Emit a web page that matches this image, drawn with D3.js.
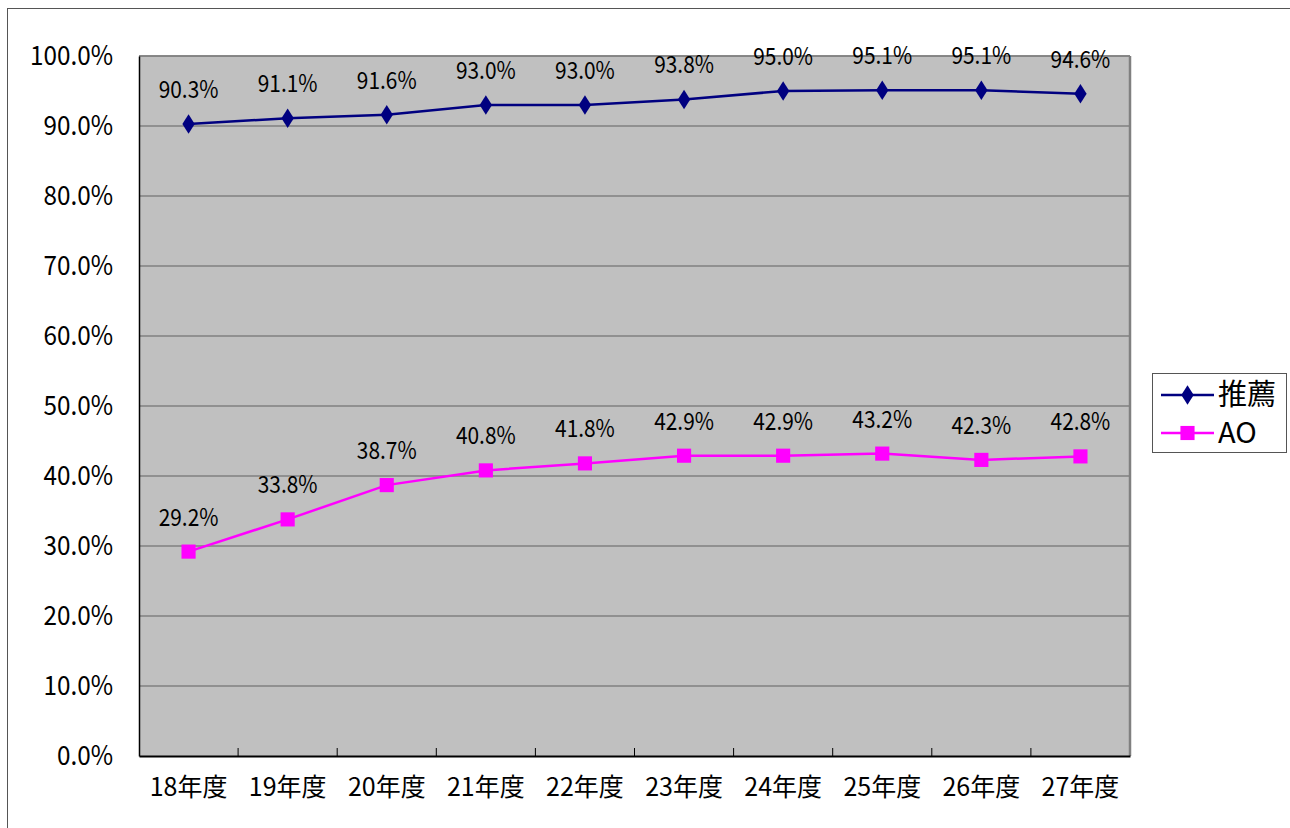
<!DOCTYPE html>
<html><head><meta charset="utf-8">
<script src="https://cdn.jsdelivr.net/npm/d3@7"></script>
<style>html,body{margin:0;padding:0;background:#fff;}svg{display:block;}</style>
</head><body>
<svg id="c" width="1290" height="828"></svg>
<script>
const categories = ["18年度","19年度","20年度","21年度","22年度","23年度","24年度","25年度","26年度","27年度"];
const suisen = [90.3, 91.1, 91.6, 93.0, 93.0, 93.8, 95.0, 95.1, 95.1, 94.6];
const ao = [29.2, 33.8, 38.7, 40.8, 41.8, 42.9, 42.9, 43.2, 42.3, 42.8];
const seriesNames = ["推薦", "AO"];
const yTicks = [0,10,20,30,40,50,60,70,80,90,100];

const font = "'Noto Sans CJK JP', 'Noto Sans', sans-serif";
const svg = d3.select("#c");
const L = 139, R = 1130, T = 56, B = 756;

svg.append("rect").attr("x",7.5).attr("y",8.5).attr("width",1290).attr("height",830)
  .attr("fill","none").attr("stroke","#555").attr("stroke-width",1);

const x = d3.scaleBand().domain(categories).range([L,R]);
const y = d3.scaleLinear().domain([0,100]).range([B,T]);

svg.append("rect").attr("x",L).attr("y",T).attr("width",R-L).attr("height",B-T).attr("fill","#C0C0C0");

// gridlines
svg.append("g").selectAll("line").data(yTicks.filter(d=>d>0)).join("line")
  .attr("x1",L).attr("x2",R).attr("y1",d=>y(d)).attr("y2",d=>y(d))
  .attr("stroke","#808080").attr("stroke-width",1.3);

// plot border
svg.append("line").attr("x1",R).attr("x2",R).attr("y1",T).attr("y2",B).attr("stroke","#808080").attr("stroke-width",2.5);
svg.append("line").attr("x1",L).attr("x2",R).attr("y1",T).attr("y2",T).attr("stroke","#808080").attr("stroke-width",1.3);

// y axis
const ySx = 0.9;
const yAxis = d3.axisLeft(y).tickValues(yTicks).tickSize(0).tickPadding(26)
  .tickFormat(d=>d.toFixed(1)+"%");
const gy = svg.append("g").attr("transform",`translate(${L},0)`).call(yAxis);
gy.select(".domain").attr("stroke","#000").attr("stroke-width",1.5);
gy.selectAll(".tick text").attr("font-family",font).attr("font-size",27).attr("fill","#000")
  .attr("x",-26/ySx).attr("transform",`scale(${ySx},1)`);

// x axis
const xAxis = d3.axisBottom(x).tickSize(0).tickPadding(22);
const gx = svg.append("g").attr("transform",`translate(0,${B})`).call(xAxis);
gx.select(".domain").attr("stroke","#000").attr("stroke-width",2);
gx.selectAll("text").attr("font-family",font).attr("font-size",25).attr("fill","#000");
// inner category boundary ticks
svg.append("g").selectAll("line").data(categories.slice(1)).join("line")
  .attr("x1",d=>x(d)).attr("x2",d=>x(d)).attr("y1",B).attr("y2",B-8)
  .attr("stroke","#000").attr("stroke-width",1);

const cx = d => x(d)+x.bandwidth()/2;
const line = d3.line().x((d,i)=>cx(categories[i])).y(d=>y(d));

const series = [
  {name:seriesNames[0], vals:suisen, color:"#000080", shape:d3.symbolDiamond, size:110},
  {name:seriesNames[1], vals:ao, color:"#FF00FF", shape:d3.symbolSquare, size:200}
];

const lSx = 0.87;
series.forEach(s=>{
  svg.append("path").datum(s.vals).attr("d",line).attr("fill","none")
    .attr("stroke",s.color).attr("stroke-width",2.5);
  svg.append("g").selectAll("path").data(s.vals).join("path")
    .attr("d",d3.symbol().type(s.shape).size(s.size))
    .attr("transform",(d,i)=>`translate(${cx(categories[i])},${y(d)})${s.shape===d3.symbolDiamond?" scale(1.1,1)":""}`)
    .attr("fill",s.color);
  svg.append("g").selectAll("text").data(s.vals).join("text")
    .attr("transform",(d,i)=>`translate(${cx(categories[i])},${y(d)-26}) scale(${lSx},1)`)
    .attr("text-anchor","middle").attr("font-family",font).attr("font-size",24)
    .attr("fill","#000").text(d=>d.toFixed(1)+"%");
});

// legend
const lg = svg.append("g");
lg.append("rect").attr("x",1152.5).attr("y",373.5).attr("width",134).attr("height",79)
  .attr("fill","#fff").attr("stroke","#555").attr("stroke-width",1);
series.forEach((s,i)=>{
  const ly = 395 + i*38;
  lg.append("line").attr("x1",1161).attr("x2",1214).attr("y1",ly).attr("y2",ly)
    .attr("stroke",s.color).attr("stroke-width",2.5);
  lg.append("path").attr("d",d3.symbol().type(s.shape).size(s.size))
    .attr("transform",`translate(1187.5,${ly})${s.shape===d3.symbolDiamond?" scale(1.1,1)":""}`).attr("fill",s.color);
  lg.append("text").attr("x",1218).attr("y",ly).attr("dy","0.36em")
    .attr("font-family",font).attr("font-size",29).attr("fill","#000").text(s.name);
});
</script>
</body></html>
